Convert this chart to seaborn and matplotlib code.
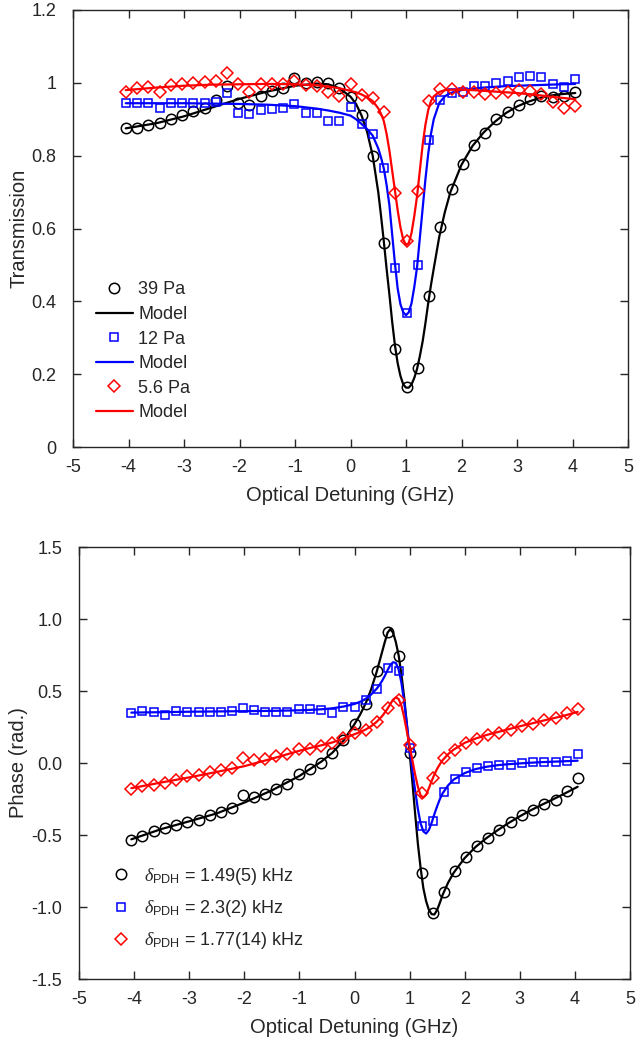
import matplotlib
matplotlib.use("Agg")
import matplotlib.pyplot as plt
import seaborn as sns
import pandas as pd

# ---------------- data ----------------
DETUNING = [-4.05, -3.85, -3.64, -3.44, -3.24, -3.04, -2.83, -2.63, -2.43, -2.23,
            -2.03, -1.82, -1.62, -1.42, -1.22, -1.01, -0.81, -0.61, -0.41, -0.20,
            0.00, 0.20, 0.41, 0.61, 0.81, 1.01, 1.22, 1.42, 1.62, 1.82,
            2.03, 2.23, 2.43, 2.63, 2.84, 3.04, 3.24, 3.44, 3.65, 3.85, 4.05]

# Transmission data
T_39PA = [0.876, 0.876, 0.884, 0.891, 0.902, 0.912, 0.922, 0.932, 0.953, 0.990,
          0.945, 0.940, 0.965, 0.977, 0.987, 1.012, 1.000, 1.002, 1.000, 0.985,
          0.962, 0.913, 0.800, 0.561, 0.270, 0.164, 0.216, 0.416, 0.604, 0.709,
          0.778, 0.830, 0.862, 0.900, 0.920, 0.938, 0.956, 0.965, 0.962, 0.963, 0.974]
T_12PA = [0.944, 0.944, 0.944, 0.930, 0.944, 0.944, 0.944, 0.944, 0.946, 0.971,
          0.916, 0.914, 0.926, 0.927, 0.930, 0.942, 0.918, 0.918, 0.894, 0.896,
          0.935, 0.887, 0.859, 0.765, 0.491, 0.368, 0.499, 0.843, 0.954, 0.972,
          0.976, 0.990, 0.990, 1.000, 1.006, 1.016, 1.018, 1.015, 0.996, 0.988, 1.010]
T_56PA = [0.974, 0.985, 0.988, 0.974, 0.995, 0.997, 0.999, 1.001, 1.006, 1.027,
          0.997, 0.976, 0.997, 0.997, 0.997, 1.005, 0.995, 0.990, 0.975, 0.965,
          0.996, 0.967, 0.958, 0.920, 0.698, 0.565, 0.704, 0.951, 0.984, 0.983,
          0.975, 0.975, 0.968, 0.973, 0.974, 0.980, 0.977, 0.970, 0.947, 0.930, 0.936]

# Transmission model curves
T_MODEL_X = [-4.05, -3.5, -3.0, -2.5, -2.0, -1.5, -1.0, -0.6, -0.4, -0.2,
             0.0, 0.1, 0.2, 0.3, 0.4, 0.5, 0.55, 0.6, 0.65, 0.7,
             0.75, 0.8, 0.85, 0.9, 0.95, 1.0, 1.05, 1.1, 1.15, 1.2,
             1.25, 1.3, 1.35, 1.4, 1.45, 1.5, 1.6, 1.7, 1.8, 2.0,
             2.2, 2.4, 2.6, 2.8, 3.0, 3.2, 3.4, 3.6, 3.8, 4.05]
T_MODEL_39 = [0.875, 0.889, 0.908, 0.932, 0.956, 0.976, 0.992, 0.998, 0.996, 0.985,
              0.962, 0.942, 0.910, 0.865, 0.800, 0.700, 0.635, 0.565, 0.490, 0.420,
              0.345, 0.280, 0.230, 0.195, 0.172, 0.163, 0.163, 0.172, 0.190, 0.215,
              0.250, 0.290, 0.340, 0.395, 0.445, 0.490, 0.578, 0.645, 0.700, 0.775,
              0.827, 0.864, 0.893, 0.917, 0.935, 0.948, 0.958, 0.965, 0.969, 0.972]
T_MODEL_12 = [0.944, 0.944, 0.944, 0.943, 0.942, 0.940, 0.936, 0.929, 0.924, 0.918,
              0.910, 0.900, 0.887, 0.873, 0.855, 0.820, 0.795, 0.765, 0.720, 0.665,
              0.585, 0.505, 0.435, 0.392, 0.370, 0.362, 0.370, 0.395, 0.440, 0.495,
              0.575, 0.655, 0.735, 0.805, 0.860, 0.900, 0.945, 0.963, 0.972, 0.980,
              0.984, 0.987, 0.989, 0.991, 0.992, 0.993, 0.994, 0.995, 0.996, 0.997]
T_MODEL_56 = [0.980, 0.987, 0.992, 0.995, 0.996, 0.997, 0.996, 0.993, 0.990, 0.985,
              0.978, 0.974, 0.968, 0.960, 0.950, 0.930, 0.915, 0.895, 0.860, 0.815,
              0.760, 0.705, 0.650, 0.603, 0.570, 0.555, 0.560, 0.588, 0.635, 0.690,
              0.760, 0.830, 0.885, 0.925, 0.950, 0.963, 0.975, 0.980, 0.981, 0.981,
              0.980, 0.978, 0.976, 0.974, 0.972, 0.969, 0.966, 0.962, 0.959, 0.955]

# Phase data
P_39PA = [-0.537, -0.505, -0.475, -0.451, -0.428, -0.412, -0.394, -0.363, -0.340, -0.313,
          -0.220, -0.238, -0.215, -0.180, -0.143, -0.074, -0.042, 0.000, 0.072, 0.157,
          0.270, 0.412, 0.637, 0.910, 0.741, 0.069, -0.764, -1.042, -0.896, -0.752,
          -0.655, -0.579, -0.521, -0.463, -0.412, -0.359, -0.324, -0.285, -0.255, -0.197, -0.104]
P_12PA = [0.347, 0.359, 0.352, 0.336, 0.359, 0.356, 0.352, 0.352, 0.352, 0.363,
          0.382, 0.366, 0.356, 0.356, 0.356, 0.375, 0.375, 0.370, 0.347, 0.389,
          0.391, 0.440, 0.514, 0.660, 0.637, 0.104, -0.440, -0.405, -0.204, -0.111,
          -0.065, -0.035, -0.023, -0.012, -0.012, 0.000, 0.005, 0.005, 0.005, 0.012, 0.065]
P_56PA = [-0.180, -0.162, -0.155, -0.139, -0.120, -0.093, -0.081, -0.065, -0.046, -0.035,
          0.035, 0.019, 0.028, 0.046, 0.065, 0.097, 0.097, 0.116, 0.141, 0.177,
          0.210, 0.227, 0.282, 0.382, 0.440, 0.127, -0.208, -0.104, 0.035, 0.093,
          0.139, 0.167, 0.197, 0.208, 0.231, 0.255, 0.273, 0.296, 0.312, 0.347, 0.375]

# Phase model curves
P_MODEL_X = [-4.05, -3.5, -3.0, -2.5, -2.0, -1.5, -1.0, -0.8, -0.6, -0.4,
             -0.2, 0.0, 0.1, 0.2, 0.3, 0.4, 0.45, 0.5, 0.55, 0.6,
             0.65, 0.7, 0.75, 0.8, 0.85, 0.9, 0.95, 1.0, 1.05, 1.1,
             1.15, 1.2, 1.25, 1.3, 1.35, 1.4, 1.45, 1.5, 1.55, 1.6,
             1.7, 1.8, 2.0, 2.2, 2.4, 2.6, 2.8, 3.0, 3.2, 3.4,
             3.6, 3.8, 4.05]
P_MODEL_39 = [-0.530, -0.458, -0.405, -0.350, -0.275, -0.190, -0.090, -0.040, 0.010, 0.072,
              0.155, 0.270, 0.335, 0.412, 0.510, 0.630, 0.700, 0.770, 0.840, 0.905,
              0.930, 0.905, 0.840, 0.750, 0.620, 0.460, 0.270, 0.070, -0.130, -0.350,
              -0.560, -0.730, -0.870, -0.960, -1.020, -1.050, -1.052, -1.020, -0.970, -0.915,
              -0.830, -0.762, -0.660, -0.582, -0.520, -0.466, -0.416, -0.370, -0.328, -0.290,
              -0.253, -0.215, -0.165]
P_MODEL_12 = [0.350, 0.353, 0.356, 0.358, 0.360, 0.362, 0.366, 0.369, 0.373, 0.380,
              0.392, 0.410, 0.425, 0.445, 0.475, 0.515, 0.540, 0.570, 0.605, 0.645,
              0.680, 0.700, 0.695, 0.650, 0.560, 0.430, 0.270, 0.105, -0.050, -0.190,
              -0.320, -0.420, -0.475, -0.490, -0.465, -0.415, -0.355, -0.300, -0.250, -0.210,
              -0.155, -0.115, -0.070, -0.042, -0.026, -0.015, -0.008, -0.003, 0.002, 0.006,
              0.009, 0.012, 0.016]
P_MODEL_56 = [-0.175, -0.135, -0.100, -0.062, -0.022, 0.030, 0.085, 0.105, 0.123, 0.143,
              0.170, 0.200, 0.215, 0.232, 0.255, 0.285, 0.305, 0.325, 0.350, 0.378,
              0.410, 0.440, 0.455, 0.445, 0.400, 0.320, 0.220, 0.120, 0.020, -0.080,
              -0.165, -0.225, -0.240, -0.220, -0.175, -0.125, -0.080, -0.040, -0.008, 0.020,
              0.062, 0.093, 0.140, 0.170, 0.195, 0.215, 0.235, 0.255, 0.273, 0.292,
              0.310, 0.328, 0.355]

SERIES_T = ["39 Pa", "12 Pa", "5.6 Pa"]
SERIES_P = [r"$\delta_{\mathrm{PDH}}$ = 1.49(5) kHz",
            r"$\delta_{\mathrm{PDH}}$ = 2.3(2) kHz",
            r"$\delta_{\mathrm{PDH}}$ = 1.77(14) kHz"]
X_TICKS = [-5, -4, -3, -2, -1, 0, 1, 2, 3, 4, 5]
X_TICKLABELS = ["-5", "-4", "-3", "-2", "-1", "0", "1", "2", "3", "4", "5"]
T_TICKS = [0, 0.2, 0.4, 0.6, 0.8, 1.0, 1.2]
T_TICKLABELS = ["0", "0.2", "0.4", "0.6", "0.8", "1", "1.2"]
P_TICKS = [-1.5, -1.0, -0.5, 0.0, 0.5, 1.0, 1.5]
P_TICKLABELS = ["-1.5", "-1.0", "-0.5", "0.0", "0.5", "1.0", "1.5"]

# ---------------- style ----------------
sns.set_style("ticks")
plt.rcParams["font.family"] = ["Liberation Sans", "DejaVu Sans"]
plt.rcParams["mathtext.fontset"] = "custom"
plt.rcParams["mathtext.rm"] = "Liberation Sans"
plt.rcParams["mathtext.it"] = "Liberation Serif:italic"
plt.rcParams["mathtext.default"] = "it"
plt.rcParams["axes.unicode_minus"] = False

DARK = "#262626"
COLORS = ["#000000", "#0000ff", "#ff0000"]
MARKERS = ["o", "s", "D"]
MSIZES = [7.5, 5.8, 6.2]
TICK_FS = 13
LABEL_FS = 14.5
LEG_FS = 13

fig = plt.figure(figsize=(6.36, 10.44), dpi=100)
ax1 = fig.add_axes([73 / 636, 1 - 447 / 1044, 555 / 636, 437 / 1044])
ax2 = fig.add_axes([79 / 636, 1 - 979 / 1044, 551 / 636, 432 / 1044])


def draw(ax, data_list, model_x, model_list, labels, with_model_labels):
    for i, (yd, ym) in enumerate(zip(data_list, model_list)):
        df = pd.DataFrame({"x": DETUNING, "y": yd})
        sns.lineplot(data=df, x="x", y="y", ax=ax, estimator=None, sort=False,
                     linestyle="", marker=MARKERS[i], markersize=MSIZES[i],
                     markerfacecolor="none", markeredgecolor=COLORS[i],
                     markeredgewidth=1.1, color=COLORS[i], label=labels[i])
        dm = pd.DataFrame({"x": model_x, "y": ym})
        sns.lineplot(data=dm, x="x", y="y", ax=ax, estimator=None, sort=False,
                     color=COLORS[i], linewidth=1.6,
                     label="Model" if with_model_labels else "_nolegend_")


draw(ax1, [T_39PA, T_12PA, T_56PA], T_MODEL_X,
     [T_MODEL_39, T_MODEL_12, T_MODEL_56], SERIES_T, True)
draw(ax2, [P_39PA, P_12PA, P_56PA], P_MODEL_X,
     [P_MODEL_39, P_MODEL_12, P_MODEL_56], SERIES_P, False)

for ax, yt, ytl, ylim, ylabel in [
        (ax1, T_TICKS, T_TICKLABELS, (0, 1.2), "Transmission"),
        (ax2, P_TICKS, P_TICKLABELS, (-1.5, 1.5), "Phase (rad.)")]:
    ax.set_xlim(-5, 5)
    ax.set_ylim(*ylim)
    ax.set_xticks(X_TICKS)
    ax.set_xticklabels(X_TICKLABELS)
    ax.set_yticks(yt)
    ax.set_yticklabels(ytl)
    ax.set_xlabel("Optical Detuning (GHz)", fontsize=LABEL_FS, color=DARK, labelpad=7)
    ax.set_ylabel(ylabel, fontsize=LABEL_FS, color=DARK)
    ax.tick_params(direction="in", top=True, right=True, length=5.5, width=1.0,
                   labelsize=TICK_FS, colors=DARK)
    ax.tick_params(axis="x", pad=9)
    ax.tick_params(axis="y", pad=12)
    for s in ax.spines.values():
        s.set_visible(True)
        s.set_linewidth(1.0)
        s.set_color(DARK)

ax1.yaxis.set_label_coords(-0.081, 0.5)
ax2.yaxis.set_label_coords(-0.093, 0.5)

h1, l1 = ax1.get_legend_handles_labels()
ax1.legend(h1, l1, loc="upper left", bbox_to_anchor=(0.041, 0.379), frameon=False,
           fontsize=LEG_FS, handlelength=2.05, handletextpad=0.3, labelspacing=0.42,
           borderpad=0, borderaxespad=0, labelcolor=DARK)
h2, l2 = ax2.get_legend_handles_labels()
ax2.legend(h2, l2, loc="upper left", bbox_to_anchor=(0.052, 0.262), frameon=False,
           fontsize=LEG_FS, handlelength=1.5, handletextpad=0.5, labelspacing=0.62,
           borderpad=0, borderaxespad=0, labelcolor=DARK)

fig.savefig("out.png", dpi=100)
